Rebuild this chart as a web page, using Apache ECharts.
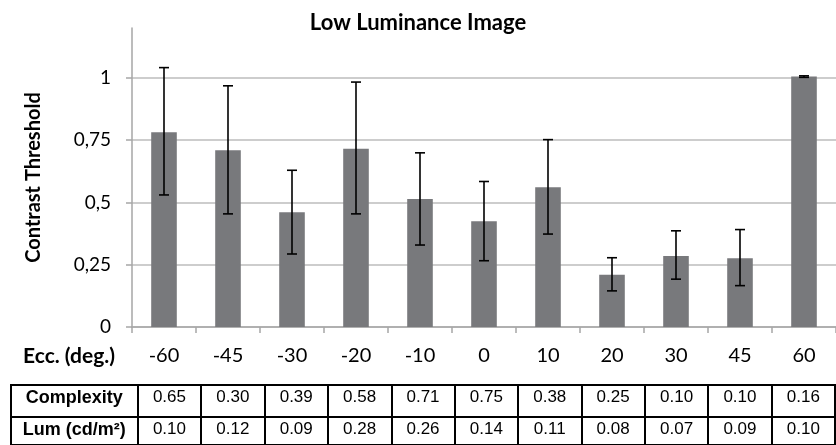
<!DOCTYPE html>
<html>
<head>
<meta charset="utf-8">
<script src="https://cdn.jsdelivr.net/npm/echarts@6/dist/echarts.min.js"></script>
<style>
html,body{margin:0;padding:0;background:#fff;}
#main{width:836px;height:445px;}
</style>
</head>
<body>
<div id="main"></div>
<script>
// ---- data ----
const ecc = ['-60', '-45', '-30', '-20', '-10', '0', '10', '20', '30', '45', '60'];
const threshold = [0.782, 0.709, 0.461, 0.715, 0.514, 0.424, 0.561, 0.210, 0.285, 0.276, 1.005];
const errUpper = [1.041, 0.968, 0.629, 0.983, 0.699, 0.584, 0.752, 0.278, 0.386, 0.391, 1.008];
const errLower = [0.530, 0.454, 0.293, 0.454, 0.329, 0.266, 0.373, 0.145, 0.192, 0.166, 1.002];
const complexity = ['0.65', '0.30', '0.39', '0.58', '0.71', '0.75', '0.38', '0.25', '0.10', '0.10', '0.16'];
const lum = ['0.10', '0.12', '0.09', '0.28', '0.26', '0.14', '0.11', '0.08', '0.07', '0.09', '0.10'];
const yTicks = [0, 0.25, 0.5, 0.75, 1];
const titleText = 'Low Luminance Image';
const yName = 'Contrast Threshold';
const xName = 'Ecc. (deg.)';
const rowNames = ['Complexity', 'Lum (cd/m²)'];

const chart = echarts.init(document.getElementById('main'), null, {renderer: 'canvas'});

const calibri = 'Lato, "Open Sans", sans-serif';
const arial = '"Liberation Sans", Arial, sans-serif';

function tableRow(name, values) {
  return [name, ''].concat(values);
}

function tableXAxis(gridIndex, name, values) {
  return {
    type: 'category',
    gridIndex: gridIndex,
    position: 'top',
    data: tableRow(name, values),
    axisLine: {show: false},
    axisTick: {show: false},
    splitLine: {
      show: true,
      interval: function (index) { return index !== 1; },
      lineStyle: {color: '#000', width: 2}
    },
    axisLabel: {
      inside: true,
      interval: 0,
      margin: 4,
      fontFamily: arial,
      fontSize: 17,
      color: '#000',
      formatter: function (v, i) {
        if (i === 0) return '{h|' + v + '}';
        return v;
      },
      rich: {
        h: {fontFamily: arial, fontSize: 18, fontWeight: 'bold', color: '#000', padding: [0, 0, 0, 63]}
      }
    }
  };
}

const option = {
  animation: false,
  backgroundColor: '#fff',
  title: {
    text: titleText,
    left: 'center',
    top: 7,
    textStyle: {fontFamily: calibri, fontSize: 22, fontWeight: 'bold', color: '#000'}
  },
  grid: [
    {left: 132, right: 0, top: 28, bottom: 118, containLabel: false},
    {left: 11, right: 1, top: 385, height: 32, show: true, borderColor: '#000', borderWidth: 2, backgroundColor: 'transparent'},
    {left: 11, right: 1, top: 417, height: 32, show: true, borderColor: '#000', borderWidth: 2, backgroundColor: 'transparent'}
  ],
  xAxis: [
    {
      type: 'category',
      gridIndex: 0,
      data: ecc,
      axisLine: {lineStyle: {color: '#a6a6a6', width: 1.5}},
      axisTick: {show: true, length: 6, lineStyle: {color: '#a6a6a6', width: 1.5}},
      axisLabel: {fontFamily: calibri, fontSize: 20, color: '#000', margin: 19, interval: 0}
    },
    tableXAxis(1, rowNames[0], complexity),
    tableXAxis(2, rowNames[1], lum),
    {
      type: 'category',
      gridIndex: 0,
      position: 'bottom',
      offset: 29,
      data: ecc,
      name: xName,
      nameLocation: 'start',
      nameGap: 17,
      nameTextStyle: {fontFamily: calibri, fontSize: 21, fontWeight: 'bold', color: '#000'},
      axisLine: {show: false},
      axisTick: {show: false},
      axisLabel: {show: false},
      splitLine: {show: false}
    }
  ],
  yAxis: [
    {
      type: 'value',
      gridIndex: 0,
      min: 0,
      max: 1.2,
      interval: 0.25,
      name: yName,
      nameLocation: 'middle',
      nameGap: 88,
      nameTextStyle: {fontFamily: calibri, fontSize: 20, fontWeight: 'bold', color: '#000'},
      axisLine: {show: true, lineStyle: {color: '#a6a6a6', width: 1.5}},
      axisTick: {show: true, length: 6, customValues: yTicks, lineStyle: {color: '#a6a6a6', width: 1.5}},
      axisLabel: {
        customValues: yTicks,
        fontFamily: calibri, fontSize: 19, color: '#000', margin: 21,
        formatter: function (v) {
          if (yTicks.indexOf(v) < 0) return '';
          return String(v).replace('.', ',');
        }
      },
      splitLine: {show: true, lineStyle: {color: '#bcbcbc', width: 1.5}}
    },
    {type: 'value', gridIndex: 1, show: false},
    {type: 'value', gridIndex: 2, show: false}
  ],
  series: [
    {
      type: 'bar',
      xAxisIndex: 0,
      yAxisIndex: 0,
      data: threshold,
      barWidth: '40%',
      itemStyle: {color: '#78797c'}
    },
    {
      type: 'custom',
      xAxisIndex: 0,
      yAxisIndex: 0,
      z: 10,
      data: ecc.map(function (c, i) { return [i, errLower[i], errUpper[i]]; }),
      renderItem: function (params, api) {
        const x = api.value(0);
        const lo = api.coord([x, api.value(1)]);
        const hi = api.coord([x, api.value(2)]);
        const hw = 5;
        const style = {stroke: '#000', lineWidth: 1.6, fill: null};
        return {
          type: 'group',
          children: [
            {type: 'line', shape: {x1: hi[0], y1: hi[1], x2: lo[0], y2: lo[1]}, style: style},
            {type: 'line', shape: {x1: hi[0] - hw, y1: hi[1], x2: hi[0] + hw, y2: hi[1]}, style: style},
            {type: 'line', shape: {x1: lo[0] - hw, y1: lo[1], x2: lo[0] + hw, y2: lo[1]}, style: style}
          ]
        };
      }
    }
  ]
};

chart.setOption(option);
</script>
</body>
</html>
